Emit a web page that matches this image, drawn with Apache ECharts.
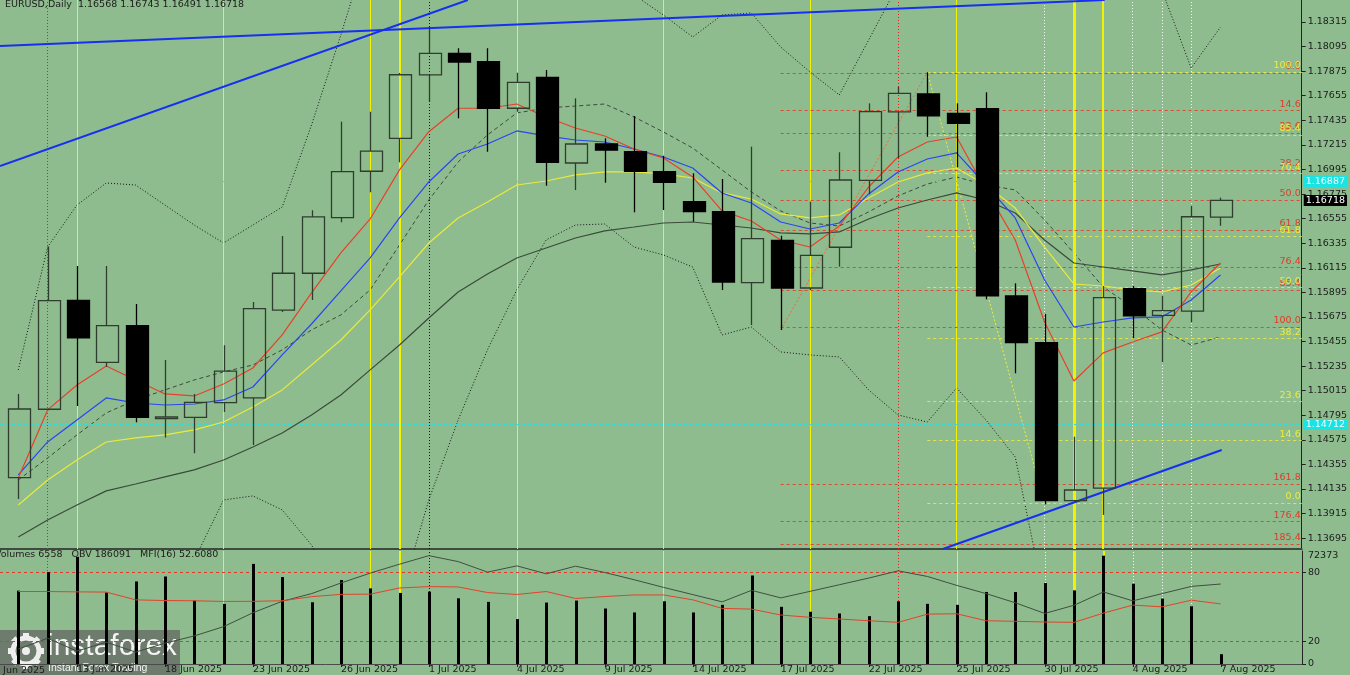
<!DOCTYPE html>
<html><head><meta charset="utf-8">
<script src="https://cdn.jsdelivr.net/npm/echarts@6/dist/echarts.min.js"></script>
<style>html,body{margin:0;padding:0;background:#8fbc8f;overflow:hidden}#c{width:1350px;height:675px}</style>
</head><body><div id="c"></div>
<script>
// ---------------- DATA ----------------
const dates = ['11 Jun 2025','12 Jun 2025','13 Jun 2025','16 Jun 2025','17 Jun 2025','18 Jun 2025','19 Jun 2025','20 Jun 2025','23 Jun 2025','24 Jun 2025','25 Jun 2025','26 Jun 2025','27 Jun 2025','30 Jun 2025',
 '1 Jul 2025','2 Jul 2025','3 Jul 2025','4 Jul 2025','7 Jul 2025','8 Jul 2025','9 Jul 2025','10 Jul 2025','11 Jul 2025','14 Jul 2025','15 Jul 2025','16 Jul 2025','17 Jul 2025','18 Jul 2025','21 Jul 2025','22 Jul 2025','23 Jul 2025','24 Jul 2025','25 Jul 2025','28 Jul 2025','29 Jul 2025','30 Jul 2025','31 Jul 2025',
 '1 Aug 2025','4 Aug 2025','5 Aug 2025','6 Aug 2025','7 Aug 2025'];
const prevDateLabel = '10 Jun 2025';
const opens  = [1.14237,1.14849,1.15824,1.15269,1.15597,1.14766,1.14777,1.14908,1.14950,1.15737,1.16066,1.16564,1.16979,1.17274,1.17841,1.18035,1.17960,1.17543,1.17820,1.17053,1.17223,1.17154,1.16975,1.16707,1.16617,1.15982,1.16361,1.15934,1.16299,1.16898,1.17510,1.17671,1.17498,1.17539,1.15863,1.15445,1.14031,1.14142,1.15928,1.15690,1.15728,1.16568];
const highs  = [1.14986,1.16304,1.16131,1.16131,1.15791,1.15290,1.14986,1.15422,1.15809,1.16400,1.16630,1.17423,1.17512,1.17859,1.18268,1.18080,1.18080,1.17861,1.17885,1.17632,1.17274,1.17474,1.17118,1.16961,1.16910,1.17199,1.16402,1.16707,1.17149,1.17587,1.17736,1.17865,1.17587,1.17686,1.15976,1.15702,1.14603,1.15952,1.15952,1.15863,1.16668,1.16743];
const lows   = [1.14046,1.14840,1.14878,1.15230,1.14732,1.14595,1.14455,1.14825,1.14529,1.15720,1.15827,1.16522,1.16791,1.17059,1.17602,1.17453,1.17154,1.17512,1.16850,1.16811,1.16877,1.16612,1.16632,1.16528,1.15916,1.15603,1.15558,1.15916,1.16125,1.16773,1.17095,1.17288,1.17015,1.15833,1.15171,1.13998,1.14022,1.13903,1.15484,1.15269,1.15627,1.16491];
const closes = [1.14851,1.15821,1.15487,1.15597,1.14777,1.14780,1.14911,1.15191,1.15749,1.16066,1.16570,1.16975,1.17160,1.17843,1.18035,1.17957,1.17543,1.17775,1.17059,1.17223,1.17169,1.16979,1.16880,1.16617,1.15988,1.16376,1.15934,1.16227,1.16901,1.17512,1.17677,1.17474,1.17408,1.15863,1.15445,1.14031,1.14126,1.15848,1.15684,1.15731,1.16572,1.16718];

const maRed    = [1.14234,1.14843,1.15066,1.15236,1.15111,1.14986,1.14968,1.15075,1.15218,1.15514,1.15890,1.16248,1.16552,1.16991,1.17333,1.17543,1.17543,1.17581,1.17465,1.17366,1.17295,1.17178,1.17098,1.16928,1.16624,1.16534,1.16364,1.16301,1.16489,1.16838,1.17107,1.17241,1.17286,1.16812,1.16364,1.15630,1.15102,1.15353,1.15451,1.15541,1.15899,1.16158];
const maBlue   = [1.14261,1.14556,1.14753,1.14950,1.14905,1.14887,1.14896,1.14932,1.15048,1.15335,1.15612,1.15908,1.16203,1.16561,1.16883,1.17134,1.17223,1.17340,1.17295,1.17259,1.17241,1.17178,1.17107,1.17008,1.16785,1.16695,1.16525,1.16462,1.16516,1.16776,1.16973,1.17089,1.17143,1.16856,1.16561,1.16006,1.15585,1.15630,1.15666,1.15675,1.15827,1.16051];
const maYellow = [1.13992,1.14216,1.14395,1.14556,1.14592,1.14619,1.14664,1.14735,1.14869,1.15022,1.15245,1.15469,1.15738,1.16033,1.16337,1.16561,1.16704,1.16856,1.16892,1.16946,1.16973,1.16973,1.16955,1.16919,1.16785,1.16731,1.16597,1.16561,1.16588,1.16740,1.16883,1.16964,1.17008,1.16856,1.16650,1.16301,1.15970,1.15952,1.15917,1.15899,1.15961,1.16113];
const maSlow   = [1.13706,1.13858,1.13992,1.14118,1.14180,1.14243,1.14306,1.14395,1.14511,1.14637,1.14798,1.14977,1.15201,1.15424,1.15666,1.15899,1.16060,1.16203,1.16292,1.16382,1.16445,1.16480,1.16516,1.16525,1.16498,1.16471,1.16427,1.16418,1.16436,1.16552,1.16650,1.16722,1.16785,1.16722,1.16606,1.16364,1.16158,1.16122,1.16087,1.16051,1.16096,1.16149];
const bandDashed = [1.14216,1.14413,1.14619,1.14816,1.14932,1.15022,1.15111,1.15183,1.15245,1.15380,1.15559,1.15693,1.15917,1.16319,1.16722,1.17062,1.17304,1.17501,1.17545,1.17563,1.17581,1.17465,1.17331,1.17187,1.16991,1.16794,1.16624,1.16516,1.16489,1.16615,1.16758,1.16865,1.16928,1.16856,1.16812,1.16543,1.16248,1.15943,1.15764,1.15559,1.15424,1.15496];
const bandDotUp  = [1.15201,1.16301,1.16677,1.16874,1.16856,1.16677,1.16498,1.16337,1.16498,1.16659,1.17393,1.18199,1.19049,1.19586,1.19855,1.19944,1.19855,1.19586,1.19318,1.19049,1.18781,1.18557,1.18378,1.18181,1.18378,1.18396,1.18091,1.17868,1.17662,1.18154,1.18646,1.19049,1.19228,1.19318,1.19228,1.19049,1.18960,1.18870,1.18781,1.18602,1.17903,1.18270];
const bandDotLow = [1.13100,1.13100,1.13100,1.13100,1.13100,1.13200,1.13500,1.14037,1.14073,1.13948,1.13634,1.13142,1.12784,1.13142,1.14037,1.14753,1.15380,1.15917,1.16364,1.16498,1.16507,1.16301,1.16230,1.16122,1.15514,1.15585,1.15362,1.15335,1.15317,1.15022,1.14798,1.14735,1.15039,1.14753,1.14422,1.13142,1.12695,1.12784,1.12963,1.13142,1.13232,1.13321];

const volumes = [49020,61380,71650,47870,55150,58470,42380,40190,66880,58070,41250,56080,50520,47480,48340,43900,41520,29990,41050,42380,37080,34430,41910,34430,39530,59130,38200,34900,33770,31980,41910,40190,39530,48140,48090,54100,49200,72373,53630,43700,38600,6558];
const mfi = [63.5,63.5,63.2,63.0,56.2,55.6,55.4,54.8,54.9,55.4,59.0,61.0,61.2,66.6,67.8,67.5,62.6,60.9,63.5,57.4,59.1,60.5,60.5,56.2,48.7,48.1,42.9,40.9,39.4,37.9,36.5,43.7,44.0,37.9,37.4,36.8,36.5,44.6,51.6,50.1,55.9,52.608];
const obv = [-181829,-120229,-193029,-142629,-198629,-148229,-107349,-54709,23691,88651,131771,191691,247691,298091,346251,312651,253291,288571,243771,287000,251051,210171,167051,126171,85291,150251,107691,144651,182171,219691,260571,228651,178251,131771,79691,19771,66251,141291,90891,131771,172651,186091];

const priceTicks = [1.13695,1.13915,1.14135,1.14355,1.14575,1.14795,1.15015,1.15235,1.15455,1.15675,1.15895,1.16115,1.16335,1.16555,1.16775,1.16995,1.17215,1.17435,1.17655,1.17875,1.18095,1.18315];
const dateTickIdx = [2,5,8,11,14,17,20,23,26,29,32,35,38,41];
const mfiTicks = [0,20,80];

const fibRedLevels = [0,14.6,23.6,38.2,50.0,61.8,76.4,85.4,100.0,161.8,176.4,185.4];
const fibRed = {from:26, high:1.17859, low:1.15585};
const fibYellowLevels = [0,14.6,23.6,38.2,50.0,61.8,76.4,85.4,100.0];
const fibYellow = {from:31, high:1.17868, low:1.14010};
const zigRed = [[26,1.15558],[31,1.17865]];
const zigYellow = [[31,1.17865],[35,1.13998]];

const trendLines = [
  [[-0.624,1.18100],[37.05,1.18512]],
  [[-0.624,1.17026],[15.33,1.18512]],
  [[31.53,1.13598],[41.04,1.14484]]
];
const vYellow = [2,7,12,17,22,27,32];
const vYellowThick = [13,36,37];
const vRedDot = [1,30];
const vBlackDot = [14];
const vWhiteDot = [35,38,39,40];
const cyanLevels = [1.16887,1.14712];
const lastPrice = 1.16718;
const header = 'EURUSD,Daily  1.16568 1.16743 1.16491 1.16718';
const subHeader = 'Volumes 6558   OBV 186091   MFI(16) 52.6080';

// ---------------- LAYOUT ----------------
const X_MIN = -0.624, X_MAX = 43.77;
const P_MIN = 1.13598, P_MAX = 1.18512;
const VOL_MAX = 75500, OBV_MIN = -265829, OBV_MAX = 372571;
const FONT = 'DejaVu Sans';
const idx = a => a.map((v,i)=>[i,v]);

function renderCandle(params, api){
  const i=api.value(0), o=api.value(1), h=api.value(2), l=api.value(3), c=api.value(4);
  const po=api.coord([i,o]), pc=api.coord([i,c]), ph=api.coord([i,h]), pl=api.coord([i,l]);
  const bw = api.size([1,0])[0]*0.75;
  const x = Math.round(po[0])+0.5;
  const top=Math.min(po[1],pc[1]), bot=Math.max(po[1],pc[1]);
  const bull = c>=o;
  const stroke = bull ? '#2f3d2f' : '#000';
  return {type:'group', children:[
    {type:'line', shape:{x1:x,y1:ph[1],x2:x,y2:top}, style:{stroke:stroke,lineWidth:1.3}},
    {type:'line', shape:{x1:x,y1:bot,x2:x,y2:pl[1]}, style:{stroke:stroke,lineWidth:1.3}},
    {type:'rect', shape:{x:Math.round(x-bw/2)+0.5,y:top,width:Math.round(bw),height:Math.max(bot-top,1.2)},
     style:{fill: bull ? 'rgba(0,0,0,0)' : '#000', stroke:stroke, lineWidth:1.3}}
  ]};
}
function renderVol(params, api){
  const i=api.value(0), v=api.value(1);
  const p0=api.coord([i,0]), p1=api.coord([i,v]);
  return {type:'rect', shape:{x:Math.round(p0[0])-1,y:p1[1],width:3,height:p0[1]-p1[1]}, style:{fill:'#000'}};
}

function vlineData(){
  const d=[];
  vYellow.forEach(x=>d.push({xAxis:x, lineStyle:{color:'#f2f200',width:1,type:'solid'}}));
  vYellowThick.forEach(x=>d.push({xAxis:x, lineStyle:{color:'#f2f200',width:x===36?3:2,type:'solid'}}));
  vRedDot.forEach(x=>d.push({xAxis:x, lineStyle:{color:'#e82020',width:1,type:[1,2]}}));
  vBlackDot.forEach(x=>d.push({xAxis:x, lineStyle:{color:'#111',width:1,type:[1,2]}}));
  vWhiteDot.forEach(x=>d.push({xAxis:x, lineStyle:{color:'#f4f4f4',width:1,type:[1,2]}}));
  return d;
}
function fibData(levels, f, color, isRed){
  return levels.map(l=>{
    const price = isRed ? f.high - l/100*(f.high-f.low) : f.low + l/100*(f.high-f.low);
    return [{coord:[f.from,price], name:l.toFixed(1),
      label:{show:true, position:'insideEndTop', distance:1, formatter:p=>p.name, color:color, fontSize:9.5, fontFamily:FONT}},
      {coord:[X_MAX,price]}];
  });
}
const lineS = (data, color, width, type, extra) => Object.assign({type:'line', xAxisIndex:0, yAxisIndex:0, data:data, symbol:'none', silent:true,
  lineStyle:{color:color,width:width,type:type||'solid'}, clip:true, animation:false}, extra||{});

const gearTeeth = [0,1,2,3,4,5,6,7].map(k=>({type:'rect', x:26, y:21, rotation:k*Math.PI/4,
  shape:{x:-3,y:-18,width:6,height:6}, style:{fill:'#eeeeee'}}));

const chart = echarts.init(document.getElementById('c'));
const option = {
  backgroundColor:'#8fbc8f',
  animation:false,
  textStyle:{fontFamily:FONT},
  title:{text:header, left:5, top:0, padding:0, textStyle:{fontSize:9.5, fontWeight:'normal', color:'#1c1c1c', fontFamily:FONT}},
  grid:[{left:0,right:48,top:0,height:549},{left:0,right:48,top:551,height:114}],
  xAxis:[
    {gridIndex:0,type:'value',min:X_MIN,max:X_MAX,axisLine:{show:true,onZero:false,lineStyle:{color:'#3e4a3e',width:2}},axisTick:{show:false},axisLabel:{show:false},splitLine:{show:false}},
    {gridIndex:1,type:'value',min:X_MIN,max:X_MAX,axisLine:{show:true,onZero:false,lineStyle:{color:'#4a4a4a',width:1}},
     axisTick:{show:true,customValues:dateTickIdx,length:3,lineStyle:{color:'#222'}},
     axisLabel:{show:true,customValues:dateTickIdx,formatter:v=>dates[Math.round(v)],align:'left',margin:1,fontSize:9.5,color:'#1c1c1c',fontFamily:FONT},
     splitLine:{show:false}}
  ],
  yAxis:[
    {gridIndex:0,type:'value',position:'right',min:P_MIN,max:P_MAX,axisLine:{show:true,onZero:false,lineStyle:{color:'#222'}},
     axisTick:{show:true,customValues:priceTicks,length:4,lineStyle:{color:'#222'}},
     axisLabel:{customValues:priceTicks,formatter:v=>v.toFixed(5),fontSize:9.5,color:'#1c1c1c',margin:6,fontFamily:FONT},splitLine:{show:false}},
    {gridIndex:1,type:'value',position:'right',min:0,max:99,axisLine:{show:true,onZero:false,lineStyle:{color:'#222'}},
     axisTick:{show:true,customValues:mfiTicks,length:4,lineStyle:{color:'#222'}},
     axisLabel:{customValues:mfiTicks,formatter:v=>String(v),fontSize:9.5,color:'#1c1c1c',margin:6,fontFamily:FONT},splitLine:{show:false}},
    {gridIndex:1,type:'value',position:'right',min:0,max:VOL_MAX,axisLine:{show:false,onZero:false},
     axisTick:{show:false},
     axisLabel:{customValues:[Math.max(...volumes)],formatter:v=>String(Math.round(v)),fontSize:9.5,color:'#1c1c1c',margin:6,fontFamily:FONT},splitLine:{show:false}},
    {gridIndex:1,type:'value',show:false,min:OBV_MIN,max:OBV_MAX,axisLine:{onZero:false}}
  ],
  graphic:[
    {type:'text', left:-5, top:550, style:{text:subHeader, fontSize:9.5, fontFamily:FONT, fill:'#1c1c1c'}, z:50},
    {type:'text', left:-12, top:666, style:{text:prevDateLabel, fontSize:9.5, fontFamily:FONT, fill:'#1c1c1c'}, z:50},
    {type:'group', left:0, top:630, z:100, children:[
      {type:'rect', shape:{x:0,y:0,width:180,height:45}, style:{fill:'rgba(96,100,96,0.72)'}}
    ].concat(gearTeeth).concat([
      {type:'circle', shape:{cx:26,cy:21,r:13}, style:{fill:'none',stroke:'#eeeeee',lineWidth:5}},
      {type:'circle', shape:{cx:26,cy:21,r:4}, style:{fill:'#eeeeee'}},
      {type:'text', x:47, y:2, style:{text:'instaforex', fontSize:30, fontFamily:'Liberation Sans', fill:'#f4f4f4'}},
      {type:'text', x:48, y:33, style:{text:'Instant Forex Trading', fontSize:10.5, fontFamily:'Liberation Sans', fill:'#f4f4f4'}}
    ])}
  ],
  series:[
    {type:'line', xAxisIndex:0, yAxisIndex:0, data:[], silent:true, z:1,
     markLine:{silent:true, symbol:'none', precision:5, label:{show:false}, data:vlineData(), animation:false}},
    {type:'line', xAxisIndex:1, yAxisIndex:1, data:[], silent:true, z:1,
     markLine:{silent:true, symbol:'none', precision:5, label:{show:false}, data:vlineData(), animation:false}},
    {type:'line', xAxisIndex:0, yAxisIndex:0, data:[], silent:true, z:2,
     markLine:{silent:true, symbol:'none', precision:5, animation:false, lineStyle:{color:'#3fd8d0',type:[3,3],width:1},
       label:{show:true, position:'end', distance:2, formatter:p=>Number(p.value).toFixed(5), backgroundColor:'#19e3e3', color:'#eaffff', padding:[1,2,0,2], fontSize:9.5, fontFamily:FONT},
       data:cyanLevels.map(v=>({yAxis:v}))}},
    {type:'line', xAxisIndex:0, yAxisIndex:0, data:[], silent:true, z:3,
     markLine:{silent:true, symbol:'none', precision:5, animation:false, lineStyle:{color:'#dc4a30',type:[3,3],width:1}, data:fibData(fibRedLevels,fibRed,'#e23a26',true)}},
    {type:'line', xAxisIndex:0, yAxisIndex:0, data:[], silent:true, z:3,
     markLine:{silent:true, symbol:'none', precision:5, animation:false, lineStyle:{color:'#e4e446',type:[3,3],width:1}, data:fibData(fibYellowLevels,fibYellow,'#ecec3a',false)}},
    lineS(zigRed,'#ec6a3a',1,[2,2],{z:4}),
    lineS(zigYellow,'#eeee40',1,[2,2],{z:4}),
    lineS(idx(bandDotUp),'#141414',1,[1,2],{z:4}),
    lineS(idx(bandDotLow),'#141414',1,[1,2],{z:4}),
    lineS(idx(bandDashed),'#3b4a3b',1,[4,3],{z:4}),
    lineS(idx(maSlow),'#3a4a3a',1.2,'solid',{z:5}),
    lineS(idx(maYellow),'#eaea3c',1.2,'solid',{z:5}),
    lineS(idx(maBlue),'#2a46f0',1.2,'solid',{z:5}),
    lineS(idx(maRed),'#e8402a',1.2,'solid',{z:5}),
    lineS(trendLines[0],'#1530f0',2,'solid',{z:6}),
    lineS(trendLines[1],'#1530f0',2,'solid',{z:6}),
    lineS(trendLines[2],'#1530f0',2,'solid',{z:6}),
    {type:'custom', xAxisIndex:0, yAxisIndex:0, renderItem:renderCandle, clip:true, silent:true, z:7,
     encode:{x:0,y:[1,2,3,4]}, data:dates.map((d,i)=>[i,opens[i],highs[i],lows[i],closes[i]])},
    {type:'line', xAxisIndex:0, yAxisIndex:0, data:[], silent:true, z:9,
     markLine:{silent:true, symbol:'none', precision:5, animation:false, lineStyle:{color:'rgba(0,0,0,0)',width:0},
       label:{show:true, position:'end', distance:2, formatter:p=>Number(p.value).toFixed(5), backgroundColor:'#000', color:'#fff', padding:[1,2,0,2], fontSize:9.5, fontFamily:FONT},
       data:[{yAxis:lastPrice}]}},
    {type:'custom', xAxisIndex:1, yAxisIndex:2, renderItem:renderVol, clip:true, silent:true, z:5,
     encode:{x:0,y:1}, data:idx(volumes)},
    {type:'line', xAxisIndex:1, yAxisIndex:3, data:idx(obv), symbol:'none', silent:true, z:6, lineStyle:{color:'#3f4f3f',width:1}},
    {type:'line', xAxisIndex:1, yAxisIndex:1, data:idx(mfi), symbol:'none', silent:true, z:6, lineStyle:{color:'#e0442c',width:1},
     markLine:{silent:true, symbol:'none', precision:2, animation:false, label:{show:false}, lineStyle:{color:'#e03a2a',type:[3,3],width:1}, data:[{yAxis:80},{yAxis:20}]}}
  ]
};
chart.setOption(option);
</script></body></html>
